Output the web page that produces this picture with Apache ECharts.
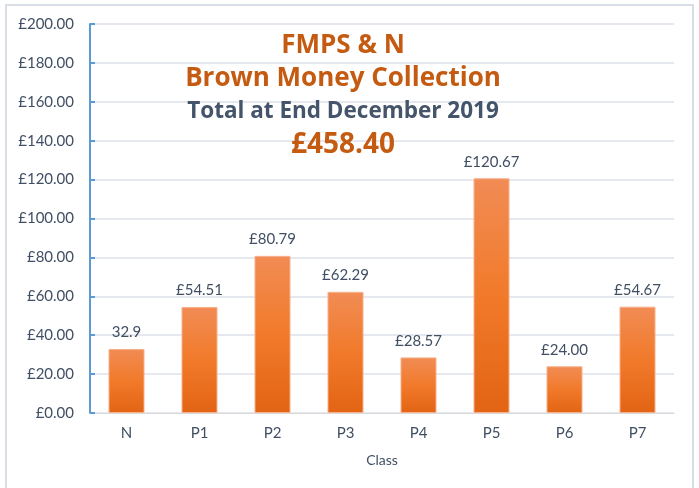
<!DOCTYPE html>
<html>
<head>
<meta charset="utf-8">
<style>
  html, body { margin: 0; padding: 0; background: #fff; }
  #chart { width: 699px; height: 488px; }
</style>
<script src="https://cdn.jsdelivr.net/npm/echarts@6/dist/echarts.min.js"></script>
</head>
<body>
<div id="chart"></div>
<script>
(function() {
  'use strict';

  var classes = ['N', 'P1', 'P2', 'P3', 'P4', 'P5', 'P6', 'P7'];
  var totals = [32.9, 54.51, 80.79, 62.29, 28.57, 120.67, 24.00, 54.67];
  var barLabels = ['32.9', '£54.51', '£80.79', '£62.29', '£28.57', '£120.67', '£24.00', '£54.67'];
  var titleLines = ['FMPS & N', 'Brown Money Collection', 'Total at End December 2019', '£458.40'];

  var orange = '#c55a11';
  var slate = '#44546a';
  var textGrey = '#404f63';
  var font = 'Lato, "Open Sans", sans-serif';
  var titleFont = '"Open Sans", Lato, sans-serif';

  var chart = echarts.init(document.getElementById('chart'), null, { renderer: 'canvas' });

  var option = {
    animation: false,
    graphic: [{
      type: 'rect',
      shape: { x: 6, y: 5, width: 687, height: 495 },
      style: { fill: 'none', stroke: '#d9dde5', lineWidth: 2 },
      z: -1
    }],
    title: [
      { text: titleLines[0], left: 338, top: 28, textAlign: 'center',
        textStyle: { color: orange, fontSize: 26, fontWeight: 'bold', fontFamily: titleFont } },
      { text: titleLines[1], left: 338, top: 61, textAlign: 'center',
        textStyle: { color: orange, fontSize: 26, fontWeight: 'bold', fontFamily: titleFont } },
      { text: titleLines[2], left: 338, top: 95, textAlign: 'center',
        textStyle: { color: slate, fontSize: 22.5, fontWeight: 'bold', fontFamily: titleFont } },
      { text: titleLines[3], left: 338, top: 126, textAlign: 'center',
        textStyle: { color: orange, fontSize: 28, fontWeight: 'bold', fontFamily: titleFont } }
    ],
    grid: { left: 90, right: 25, top: 24, bottom: 75 },
    xAxis: {
      type: 'category',
      data: classes,
      name: 'Class',
      nameLocation: 'middle',
      nameGap: 40,
      nameTextStyle: { color: textGrey, fontSize: 14, fontFamily: font },
      axisLine: { lineStyle: { color: '#d9d9d9', width: 1 } },
      axisTick: { show: false },
      axisLabel: { color: textGrey, fontSize: 15, margin: 13, fontFamily: font }
    },
    yAxis: {
      type: 'value',
      min: 0,
      max: 200,
      interval: 20,
      axisLine: { show: true, lineStyle: { color: '#5b9bd5', width: 2 } },
      axisTick: { show: true, inside: true, length: 5, lineStyle: { color: '#5b9bd5', width: 2 } },
      splitLine: { lineStyle: { color: '#dde2ea', width: 1.5 } },
      axisLabel: {
        color: textGrey, fontSize: 15, margin: 16, fontFamily: font,
        formatter: function(v) { return '£' + v.toFixed(2); }
      }
    },
    series: [{
      type: 'bar',
      data: totals,
      barWidth: 36,
      itemStyle: {
        color: new echarts.graphic.LinearGradient(0, 0, 0, 1, [
          { offset: 0, color: '#f18c55' },
          { offset: 0.5, color: '#f17a2a' },
          { offset: 1, color: '#e26414' }
        ]),
        borderColor: '#f7b08a',
        borderWidth: 1
      },
      label: {
        show: true,
        position: 'top',
        distance: 9,
        color: textGrey,
        fontSize: 15,
        fontFamily: font,
        formatter: function(p) { return barLabels[p.dataIndex]; }
      }
    }]
  };

  chart.setOption(option);
})();
</script>
</body>
</html>
